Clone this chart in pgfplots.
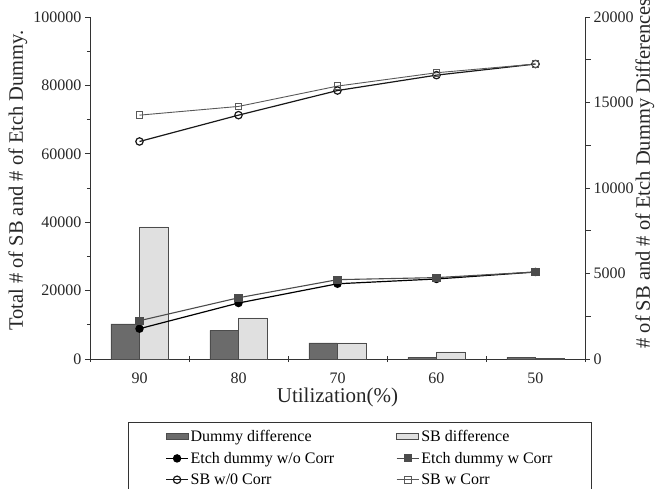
\documentclass[border=0pt]{standalone}
\usepackage{fontspec}
\setmainfont{Liberation Serif}
\usepackage{pgfplots}
\pgfplotsset{compat=1.18}

\definecolor{darkbar}{gray}{0.42}
\definecolor{lightbar}{gray}{0.88}
\definecolor{barline}{gray}{0.3}
\definecolor{sqgray}{gray}{0.3}
\definecolor{axcol}{gray}{0.2}

\pgfplotsset{
 barlegend/.style={legend image code/.code={\draw[##1] (0bp,-3bp) rectangle (22bp,3bp);}},
 linelegend/.style={legend image code/.code={\draw[mark repeat=2,mark phase=2,##1] plot coordinates {(0bp,0bp) (11bp,0bp) (22bp,0bp)};}},
}

\begin{document}
\begin{tikzpicture}
\pgfplotsset{
 common/.style={
  scale only axis, width=495bp, height=342bp,
  xmin=-0.5, xmax=4.5,
  tick label style={font=\fontsize{16bp}{18bp}\selectfont, text=black!85},
  /pgf/number format/assume math mode=true,
  scaled y ticks=false,
  yticklabel style={/pgf/number format/fixed, /pgf/number format/1000 sep={}},
  tick align=outside,
  major tick length=5bp, minor tick length=3bp,
  axis line style={line width=0.9bp, color=axcol},
  every tick/.style={line width=0.8bp, color=axcol},
 }
}
% bars on the right axis
\begin{axis}[common,
  axis y line*=right, axis x line*=bottom,
  every axis y label/.style={at={(axis description cs:1.1212,0.55)}, anchor=center, rotate=90,
     font=\fontsize{20.5bp}{24bp}\selectfont, text=black!85},
  every axis x label/.style={at={(axis description cs:0.5,-0.128)}, anchor=base, inner sep=0pt,
     font=\fontsize{21bp}{24bp}\selectfont, text=black!85},
  ymin=0, ymax=20000, ytick={0,5000,10000,15000,20000}, minor y tick num=1,
  xtick={0,1,2,3,4}, xticklabels={90,80,70,60,50},
  xticklabel style={anchor=north, inner sep=0pt, yshift=-8.5bp},
  major x tick style={draw=none},
  minor xtick={-0.5,0.5,1.5,2.5,3.5,4.5},
  minor x tick style={yshift=3bp},
  minor tick length=6bp,
  ybar=0pt, bar width=28.5bp,
  xlabel={Utilization(\%)},
  ylabel={\# of SB and \# of Etch Dummy Differences.},
]
\addplot[draw=barline, fill=darkbar, line width=0.8bp] coordinates {(0,2050) (1,1670) (2,936) (3,90) (4,90)};
\addplot[draw=barline, fill=lightbar, line width=0.8bp] coordinates {(0,7720) (1,2400) (2,936) (3,410) (4,30)};
\end{axis}
% lines on the left axis
\begin{axis}[common,
  axis y line*=left, axis x line=none,
  every axis y label/.style={at={(axis description cs:-0.1455,0.522)}, anchor=center, rotate=90,
     font=\fontsize{20.5bp}{24bp}\selectfont, text=black!85},
  ymin=0, ymax=100000, ytick={0,20000,40000,60000,80000,100000}, minor y tick num=1,
  ylabel={Total \# of SB and \# of Etch Dummy.},
  legend columns=2,
  legend cell align=left,
  legend style={at={(axis description cs:0.0768,-0.184)}, anchor=north west,
     font=\fontsize{16bp}{18bp}\selectfont, draw=axcol, line width=0.9bp,
     inner xsep=37bp, inner ysep=6bp, row sep=5bp,
     /tikz/every even column/.append style={column sep=60bp}},
  linelegend,
]
\addlegendimage{draw=barline, fill=darkbar, line width=0.8bp, barlegend}
\addlegendentry{Dummy difference}
\addlegendimage{draw=barline, fill=lightbar, line width=0.8bp, barlegend}
\addlegendentry{SB difference}
\addplot[black, line width=1.2bp, mark=*, mark size=3.6bp, mark options={fill=black}] coordinates {(0,8860) (1,16370) (2,22000) (3,23400) (4,25440)};
\addlegendentry{Etch dummy w/o Corr}
\addplot[sqgray, line width=1.1bp, mark=square*, mark size=3.5bp, mark options={fill=sqgray, draw=sqgray}] coordinates {(0,11200) (1,17900) (2,23200) (3,23800) (4,25440)};
\addlegendentry{Etch dummy w Corr}
\addplot[black!90, line width=1.2bp, mark=o, mark size=3.7bp, mark options={fill=white}] coordinates {(0,63600) (1,71300) (2,78500) (3,83000) (4,86250)};
\addlegendentry{SB w/0 Corr}
\addplot[black!65, line width=0.9bp, mark=square, mark size=3.4bp, mark options={fill=white}] coordinates {(0,71300) (1,73850) (2,79800) (3,83700) (4,86250)};
\addlegendentry{SB w Corr}
\end{axis}
\pgfresetboundingbox
\useasboundingbox (-90bp,-130bp) rectangle (570bp,359bp);
\end{tikzpicture}
\end{document}
